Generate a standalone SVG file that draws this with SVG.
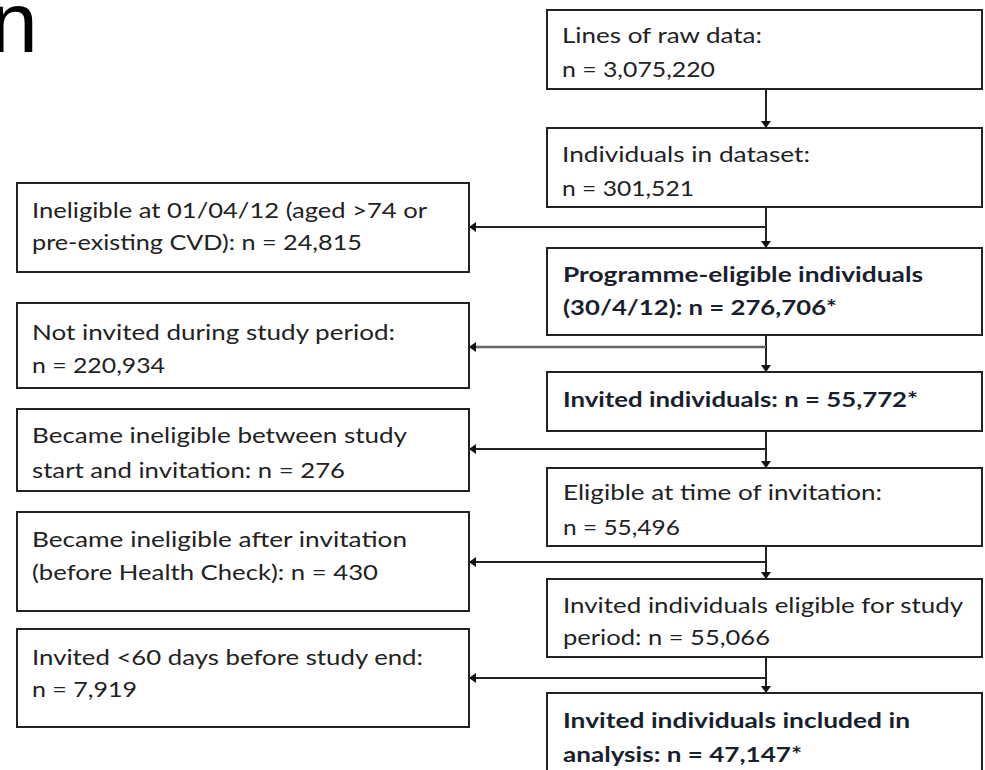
<svg xmlns="http://www.w3.org/2000/svg" width="985" height="770" viewBox="0 0 985 770">
<style>
.box{fill:#fff;stroke:#222;stroke-width:2}
.t{font-family:Lato,"Liberation Sans",sans-serif;font-size:21px;fill:#222}
.b{font-weight:bold;fill:#1a1f2e}
.c{stroke:#222;stroke-width:2;fill:none}
.g{stroke:#666;stroke-width:2.5}
.title{font-family:"Liberation Sans",Arial,sans-serif;font-size:86px;fill:#000}
</style>
<defs>
<marker id="arr" viewBox="0 0 7 10" refX="7" refY="5" markerWidth="7" markerHeight="10" markerUnits="userSpaceOnUse" orient="auto">
<path d="M0,0 L7,5 L0,10 z" fill="#111"/>
</marker>
</defs>
<rect width="985" height="770" fill="#fff"/>
<text class="title" x="-10" y="52">n</text>

<g id="connectors">
<line class="c" x1="766" y1="89" x2="766" y2="128" marker-end="url(#arr)"/>
<line class="c" x1="766" y1="207" x2="766" y2="248" marker-end="url(#arr)"/>
<line class="c" x1="766" y1="227" x2="469" y2="227" marker-end="url(#arr)"/>
<line class="c" x1="766" y1="335" x2="766" y2="372" marker-end="url(#arr)"/>
<line class="c g" x1="766" y1="347" x2="469" y2="347" marker-end="url(#arr)"/>
<line class="c" x1="766" y1="431" x2="766" y2="468" marker-end="url(#arr)"/>
<line class="c" x1="766" y1="449" x2="469" y2="449" marker-end="url(#arr)"/>
<line class="c" x1="766" y1="546" x2="766" y2="579" marker-end="url(#arr)"/>
<line class="c" x1="766" y1="562" x2="469" y2="562" marker-end="url(#arr)"/>
<line class="c" x1="766" y1="657" x2="766" y2="693" marker-end="url(#arr)"/>
<line class="c" x1="766" y1="678" x2="469" y2="678" marker-end="url(#arr)"/>
</g>

<g id="raw">
<rect class="box" x="547" y="10" width="435" height="79"/>
<text class="t" x="562" y="43" textLength="200" lengthAdjust="spacingAndGlyphs">Lines of raw data:</text>
<text class="t" x="562" y="77" textLength="153" lengthAdjust="spacingAndGlyphs">n = 3,075,220</text>
</g>
<g id="dataset">
<rect class="box" x="547" y="128" width="435" height="79"/>
<text class="t" x="562" y="162" textLength="248" lengthAdjust="spacingAndGlyphs">Individuals in dataset:</text>
<text class="t" x="562" y="196" textLength="132" lengthAdjust="spacingAndGlyphs">n = 301,521</text>
</g>
<g id="progeligible">
<rect class="box" x="547" y="248" width="435" height="87"/>
<text class="t b" x="563" y="282" textLength="360" lengthAdjust="spacingAndGlyphs">Programme-eligible individuals</text>
<text class="t b" x="563" y="315" textLength="274" lengthAdjust="spacingAndGlyphs">(30/4/12): n = 276,706*</text>
</g>
<g id="invited">
<rect class="box" x="547" y="372" width="435" height="59"/>
<text class="t b" x="563" y="407" textLength="355" lengthAdjust="spacingAndGlyphs">Invited individuals: n = 55,772*</text>
</g>
<g id="eligibleinv">
<rect class="box" x="547" y="468" width="435" height="78"/>
<text class="t" x="563" y="500" textLength="319" lengthAdjust="spacingAndGlyphs">Eligible at time of invitation:</text>
<text class="t" x="563" y="535" textLength="117" lengthAdjust="spacingAndGlyphs">n = 55,496</text>
</g>
<g id="eligiblestudy">
<rect class="box" x="547" y="579" width="435" height="78"/>
<text class="t" x="563" y="613" textLength="400" lengthAdjust="spacingAndGlyphs">Invited individuals eligible for study</text>
<text class="t" x="563" y="645" textLength="207" lengthAdjust="spacingAndGlyphs">period: n = 55,066</text>
</g>
<g id="included">
<rect class="box" x="547" y="693" width="435" height="90"/>
<text class="t b" x="563" y="728" textLength="347" lengthAdjust="spacingAndGlyphs">Invited individuals included in</text>
<text class="t b" x="563" y="762" textLength="239" lengthAdjust="spacingAndGlyphs">analysis: n = 47,147*</text>
</g>

<g id="ineligible0104">
<rect class="box" x="17" y="183" width="452" height="89"/>
<text class="t" x="32" y="218" textLength="395" lengthAdjust="spacingAndGlyphs">Ineligible at 01/04/12 (aged &gt;74 or</text>
<text class="t" x="32" y="250" textLength="330" lengthAdjust="spacingAndGlyphs">pre-existing CVD): n = 24,815</text>
</g>
<g id="notinvited">
<rect class="box" x="17" y="303" width="452" height="85"/>
<text class="t" x="32" y="340" textLength="363" lengthAdjust="spacingAndGlyphs">Not invited during study period:</text>
<text class="t" x="32" y="373" textLength="133" lengthAdjust="spacingAndGlyphs">n = 220,934</text>
</g>
<g id="inelig_before">
<rect class="box" x="17" y="409" width="452" height="82"/>
<text class="t" x="32" y="443" textLength="375" lengthAdjust="spacingAndGlyphs">Became ineligible between study</text>
<text class="t" x="32" y="478" textLength="313" lengthAdjust="spacingAndGlyphs">start and invitation: n = 276</text>
</g>
<g id="inelig_after">
<rect class="box" x="17" y="512" width="452" height="99"/>
<text class="t" x="32" y="547" textLength="375" lengthAdjust="spacingAndGlyphs">Became ineligible after invitation</text>
<text class="t" x="32" y="580" textLength="346" lengthAdjust="spacingAndGlyphs">(before Health Check): n = 430</text>
</g>
<g id="late">
<rect class="box" x="17" y="629" width="452" height="98"/>
<text class="t" x="32" y="665" textLength="391" lengthAdjust="spacingAndGlyphs">Invited &lt;60 days before study end:</text>
<text class="t" x="32" y="697" textLength="105" lengthAdjust="spacingAndGlyphs">n = 7,919</text>
</g>
</svg>
